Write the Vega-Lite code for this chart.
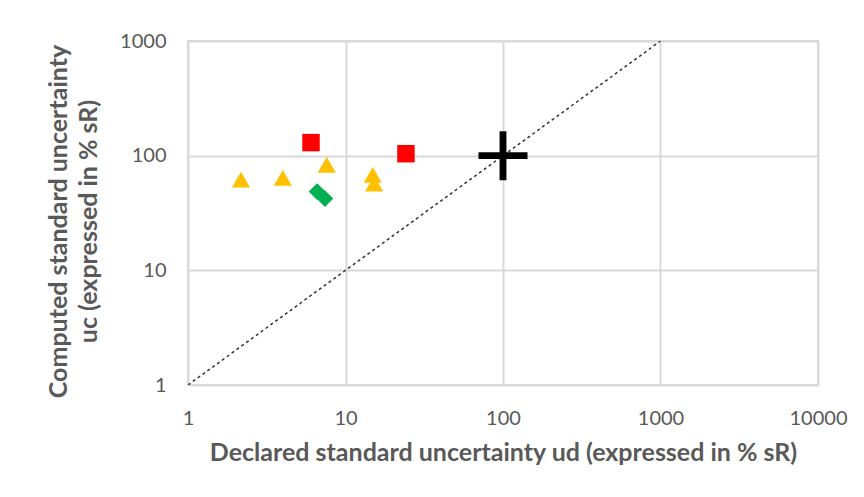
{
  "$schema": "https://vega.github.io/schema/vega-lite/v6.json",
  "autosize": "none",
  "width": 630,
  "height": 344,
  "padding": {"left": 188, "top": 41, "right": 46, "bottom": 112},
  "background": "white",
  "config": {
    "view": {"stroke": "#D9D9D9", "strokeWidth": 2},
    "axis": {
      "domain": false,
      "ticks": false,
      "gridColor": "#D9D9D9",
      "gridWidth": 2,
      "labelFont": "Lato",
      "labelFontSize": 20,
      "labelColor": "#595959",
      "titleFont": "Lato",
      "titleFontSize": 25,
      "titleFontWeight": "bold",
      "titleColor": "#595959",
      "titleLineHeight": 30,
      "labelFlush": false,
      "labelOverlap": false
    }
  },
  "data": {
    "values": [
      {"series": "triangle", "ud": 2.17, "uc": 61.8},
      {"series": "triangle", "ud": 4.0, "uc": 64},
      {"series": "triangle", "ud": 7.6, "uc": 83},
      {"series": "triangle", "ud": 14.9, "uc": 68},
      {"series": "triangle", "ud": 15.2, "uc": 57},
      {"series": "square", "ud": 6.04, "uc": 130},
      {"series": "square", "ud": 24.2, "uc": 104},
      {"series": "diamond", "ud": 6.6, "uc": 48.6},
      {"series": "diamond", "ud": 7.4, "uc": 42.3},
      {"series": "plus", "ud": 100, "uc": 100},
      {"series": "identity", "ud": 1, "uc": 1},
      {"series": "identity", "ud": 1000, "uc": 1000}
    ]
  },
  "encoding": {
    "x": {
      "field": "ud", "type": "quantitative",
      "scale": {"type": "log", "domain": [1, 10000], "nice": false},
      "axis": {"values": [1, 10, 100, 1000, 10000], "format": "d", "labelPadding": 23, "titlePadding": 12, "title": "Declared standard uncertainty ud (expressed in % sR)"}
    },
    "y": {
      "field": "uc", "type": "quantitative",
      "scale": {"type": "log", "domain": [1, 1000], "nice": false},
      "axis": {"values": [1, 10, 100, 1000], "format": "d", "labelPadding": 22, "titlePadding": 18, "titleY": 180, "title": ["Computed standard uncertainty", "uc (expressed in % sR)"]}
    }
  },
  "layer": [
    {
      "transform": [{"filter": "datum.series === 'identity'"}],
      "mark": {"type": "line", "color": "#333333", "strokeWidth": 1.5, "strokeDash": [3, 3], "clip": true}
    },
    {
      "transform": [{"filter": "datum.series !== 'identity' && datum.series !== 'plus'"}],
      "mark": {"type": "point", "filled": true, "opacity": 1, "strokeWidth": 0},
      "encoding": {
        "shape": {
          "field": "series", "type": "nominal", "legend": null,
          "scale": {
            "domain": ["triangle", "square", "diamond"],
            "range": ["triangle-up", "square", "diamond"]
          }
        },
        "color": {
          "field": "series", "type": "nominal", "legend": null,
          "scale": {
            "domain": ["triangle", "square", "diamond"],
            "range": ["#FFC000", "#FF0000", "#00B050"]
          }
        },
        "size": {
          "field": "series", "type": "nominal", "legend": null,
          "scale": {
            "domain": ["triangle", "square", "diamond"],
            "range": [330, 280, 160]
          }
        }
      }
    },
    {
      "transform": [{"filter": "datum.series === 'plus'"}],
      "mark": {
        "type": "point", "filled": true, "opacity": 1, "strokeWidth": 0, "color": "#000000", "size": 2401,
        "shape": "M-0.14,-1L0.14,-1L0.14,-0.14L1,-0.14L1,0.14L0.14,0.14L0.14,1L-0.14,1L-0.14,0.14L-1,0.14L-1,-0.14L-0.14,-0.14Z"
      }
    }
  ]
}
